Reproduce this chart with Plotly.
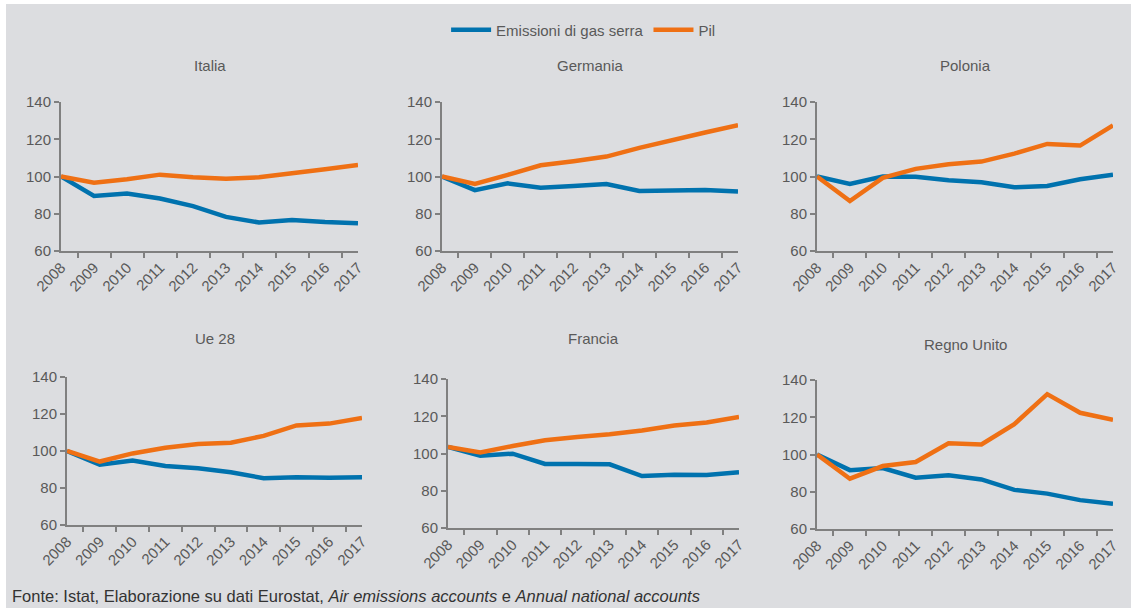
import plotly.graph_objects as go

years = ["2008", "2009", "2010", "2011", "2012", "2013", "2014", "2015", "2016", "2017"]

countries = ["Italia", "Germania", "Polonia", "Ue 28", "Francia", "Regno Unito"]

# Emissioni di gas serra (indice)
em_italia = [100, 89.5, 90.9, 88.2, 84.1, 78.3, 75.3, 76.7, 75.6, 74.9]
em_germania = [100, 92.7, 96.3, 94.0, 94.9, 96.0, 92.2, 92.6, 92.7, 92.0]
em_polonia = [100, 96.0, 100, 99.8, 98.0, 96.9, 94.2, 94.9, 98.5, 101.0]
em_ue28 = [100, 92.6, 94.8, 91.9, 90.7, 88.5, 85.3, 85.8, 85.6, 85.8]
em_francia = [103.5, 98.8, 99.9, 94.4, 94.4, 94.2, 87.9, 88.6, 88.5, 89.9]
em_regno_unito = [100, 91.6, 92.7, 87.5, 88.8, 86.6, 81.0, 79.0, 75.5, 73.5]

# Pil (indice)
pil_italia = [100, 96.7, 98.5, 101.0, 99.6, 98.8, 99.6, 101.5, 103.9, 106.2]
pil_germania = [100, 96.0, 100.9, 106.0, 108.2, 110.7, 115.4, 119.7, 123.6, 127.6]
pil_polonia = [100, 86.8, 99.3, 104.1, 106.6, 108.0, 112.3, 117.5, 116.6, 127.4]
pil_ue28 = [100, 94.3, 98.7, 101.8, 103.8, 104.5, 108.2, 113.8, 114.8, 117.9]
pil_francia = [103.5, 100.6, 104.0, 107.1, 108.9, 110.3, 112.4, 115.0, 116.7, 119.6]
pil_regno_unito = [100, 87.0, 93.8, 96.0, 106.0, 105.4, 116.3, 132.4, 122.4, 118.6]

emissioni = [em_italia, em_germania, em_polonia, em_ue28, em_francia, em_regno_unito]
pil = [pil_italia, pil_germania, pil_polonia, pil_ue28, pil_francia, pil_regno_unito]

W, H = 1131, 608
BG = "#dcdde0"
BLUE = "#0072ae"
ORANGE = "#ef7014"
AXIS = "#808080"
TXT = "#595959"
FONT = "Liberation Sans, Arial, sans-serif"

# plot boxes in pixels: (left, right, top, bottom)
boxes = [
    (61, 358, 102, 251),
    (442, 738, 102, 251),
    (817, 1113, 102, 251),
    (67, 362, 377, 525),
    (448, 739, 379, 528),
    (817, 1113, 380, 529),
]
title_y = [66, 66, 66, 338, 338, 344]

fig = go.Figure()
layout = {}
annotations = []

for i, (name, box) in enumerate(zip(countries, boxes)):
    n = i + 1
    xa = "x" if n == 1 else f"x{n}"
    ya = "y" if n == 1 else f"y{n}"
    l, r, t, b = box
    fig.add_trace(go.Scatter(
        x=years, y=emissioni[i], mode="lines", name="Emissioni di gas serra",
        line=dict(color=BLUE, width=4.5), xaxis=xa, yaxis=ya,
        showlegend=(i == 0), legendgroup="em",
    ))
    fig.add_trace(go.Scatter(
        x=years, y=pil[i], mode="lines", name="Pil",
        line=dict(color=ORANGE, width=4.5), xaxis=xa, yaxis=ya,
        showlegend=(i == 0), legendgroup="pil",
    ))
    layout[f"xaxis{'' if n == 1 else n}"] = dict(
        domain=[l / W, r / W], anchor=ya, type="category", automargin=False,
        tickson="boundaries", ticks="outside", ticklen=5, tickcolor=AXIS,
        tickwidth=1.5, showline=True, linecolor=AXIS, linewidth=2,
        showgrid=False, zeroline=False, tickangle=-45,
        tickfont=dict(family=FONT, size=15, color=TXT), fixedrange=True,
    )
    layout[f"yaxis{'' if n == 1 else n}"] = dict(
        domain=[1 - b / H, 1 - t / H], anchor=xa, range=[60, 140], automargin=False,
        dtick=20, ticks="outside", ticklen=5, tickcolor=AXIS, tickwidth=1.5,
        showline=True, linecolor=AXIS, linewidth=2, showgrid=False,
        zeroline=False, tickfont=dict(family=FONT, size=15, color=TXT),
        fixedrange=True,
    )
    annotations.append(dict(
        text=name, x=(l + r) / 2 / W, y=1 - title_y[i] / H, xref="paper",
        yref="paper", showarrow=False, xanchor="center", yanchor="middle",
        font=dict(family=FONT, size=15, color=TXT),
    ))

annotations.append(dict(
    text="Fonte: Istat, Elaborazione su dati Eurostat, <i>Air emissions accounts</i> e <i>Annual national accounts</i>",
    x=10 / W, y=1 - 596 / H, xref="paper", yref="paper", showarrow=False,
    xanchor="left", yanchor="middle",
    font=dict(family="Liberation Sans Narrow, Arial Narrow, Liberation Sans, sans-serif",
              size=16.5, color="#333333"),
))

fig.update_layout(
    **layout,
    annotations=annotations,
    width=W, height=H,
    margin=dict(l=0, r=0, t=0, b=0, autoexpand=False),
    paper_bgcolor=BG, plot_bgcolor=BG,
    showlegend=True,
    legend=dict(
        orientation="h", x=0.516, xanchor="center", y=1 - 30 / H,
        yanchor="middle", bgcolor="rgba(0,0,0,0)",
        font=dict(family=FONT, size=15, color=TXT), itemwidth=40,
    ),
    shapes=[
        dict(type="rect", xref="paper", yref="paper", x0=0, x1=6 / W, y0=0, y1=1,
             fillcolor="white", line=dict(width=0), layer="below"),
        dict(type="rect", xref="paper", yref="paper", x0=0, x1=1, y0=1 - 4 / H, y1=1,
             fillcolor="white", line=dict(width=0), layer="below"),
    ],
)

fig.write_html(
    "out.html",
    config={"displayModeBar": False},
    post_script="document.body.style.margin='0px'; document.body.style.overflow='hidden';",
)
